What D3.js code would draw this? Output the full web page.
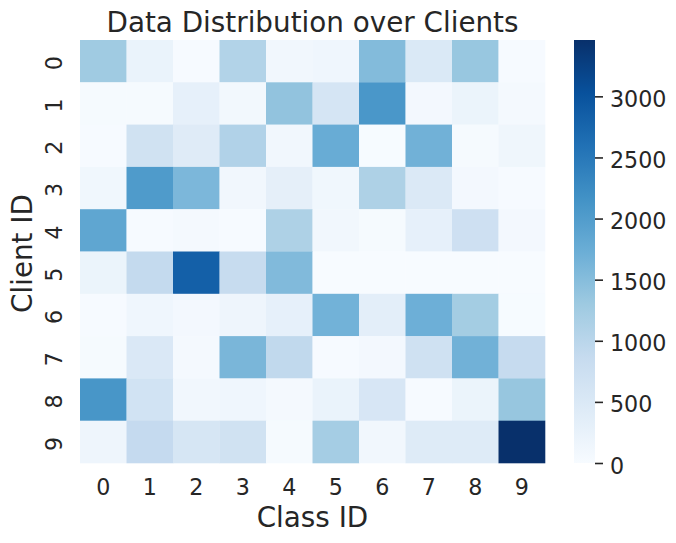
<!DOCTYPE html>
<html>
<head>
<meta charset="utf-8">
<script src="https://cdn.jsdelivr.net/npm/d3@7"></script>
<style>
  body { margin: 0; background: #fff; }
  svg { display: block; }
  text { font-family: "DejaVu Sans"; fill: #262626; }
</style>
</head>
<body>
<script>
var classes = [0, 1, 2, 3, 4, 5, 6, 7, 8, 9];
var clients = [0, 1, 2, 3, 4, 5, 6, 7, 8, 9];
var client0 = [1280, 220, 20, 1080, 100, 130, 1530, 500, 1350, 20];
var client1 = [40, 30, 290, 90, 1400, 600, 2080, 70, 200, 60];
var client2 = [20, 680, 420, 1090, 110, 1760, 10, 1680, 30, 140];
var client3 = [120, 2030, 1590, 100, 320, 120, 1130, 480, 70, 20];
var client4 = [1860, 15, 50, 15, 1130, 110, 40, 290, 720, 70];
var client5 = [200, 890, 2820, 850, 1540, 5, 5, 5, 5, 5];
var client6 = [15, 130, 70, 160, 290, 1670, 350, 1710, 1230, 10];
var client7 = [40, 510, 50, 1600, 920, 20, 70, 700, 1680, 870];
var client8 = [2100, 660, 110, 130, 60, 220, 560, 15, 200, 1360];
var client9 = [150, 880, 570, 680, 40, 1220, 110, 440, 440, 3461];
var counts = [client0, client1, client2, client3, client4, client5, client6, client7, client8, client9];
var barTicks = [0, 500, 1000, 1500, 2000, 2500, 3000];
var blues = ["#f7fbff", "#deebf7", "#c6dbef", "#9ecae1", "#6baed6", "#4292c6", "#2171b5", "#08519c", "#08306b"];

var window_w = 676, window_h = 543;
var margin = {left: 80, top: 40, right: 131, bottom: 80};
var frame_w = window_w - margin.left - margin.right;
var frame_h = window_h - margin.top - margin.bottom;
var vmax = 3461;

var xScale = d3.scaleBand().domain(classes).range([0, frame_w]);
var yScale = d3.scaleBand().domain(clients).range([0, frame_h]);
var barScale = d3.scaleLinear().domain([0, vmax]).range([frame_h, 0]);
var color = d3.scaleLinear()
    .domain(blues.map(function (c, i) { return vmax * i / (blues.length - 1); }))
    .range(blues);

var svg = d3.select("body").append("svg").attr("width", window_w).attr("height", window_h);
var g = svg.append("g").attr("transform", "translate(" + margin.left + "," + margin.top + ")");

counts.forEach(function (row, r) {
  g.selectAll(".cell" + r).data(row).enter().append("rect")
      .attr("class", "cell" + r)
      .attr("x", function (d, c) { return xScale(classes[c]); })
      .attr("y", yScale(clients[r]))
      .attr("width", xScale.bandwidth() + 0.3)
      .attr("height", yScale.bandwidth() + 0.3)
      .attr("fill", function (d) { return color(d); });
});

var xAxisG = g.append("g")
    .attr("transform", "translate(0," + frame_h + ")")
    .call(d3.axisBottom(xScale).tickSize(0).tickPadding(16.2));
xAxisG.select(".domain").remove();
xAxisG.selectAll("text").style("font-size", "22.2px").style("font-family", "DejaVu Sans");

var yAxisG = g.append("g").call(d3.axisLeft(yScale).tickSize(0));
yAxisG.select(".domain").remove();
yAxisG.selectAll("text")
    .attr("x", null).attr("dy", "0.36em")
    .attr("transform", "translate(-26,2) rotate(-90)")
    .style("text-anchor", "middle")
    .style("font-size", "22.2px")
    .style("font-family", "DejaVu Sans");

// colorbar
var defs = svg.append("defs");
var grad = defs.append("linearGradient").attr("id", "bar")
    .attr("x1", 0).attr("y1", 1).attr("x2", 0).attr("y2", 0);
blues.forEach(function (c, i) {
  grad.append("stop").attr("offset", i / (blues.length - 1)).attr("stop-color", c);
});
var barG = g.append("g").attr("transform", "translate(" + (frame_w + 29) + ",0)");
barG.append("rect").attr("width", 21).attr("height", frame_h).attr("fill", "url(#bar)");
var barAxisG = barG.append("g").attr("transform", "translate(21,0)")
    .call(d3.axisRight(barScale).tickValues(barTicks).tickFormat(d3.format("d")).tickSize(8).tickPadding(7));
barAxisG.select(".domain").remove();
barAxisG.selectAll("line").attr("stroke", "#262626").attr("stroke-width", 1.6);
barAxisG.selectAll("text").attr("dy", "0.45em").style("font-size", "22.2px").style("font-family", "DejaVu Sans");

svg.append("text")
    .attr("x", margin.left + frame_w / 2).attr("y", 32)
    .attr("text-anchor", "middle").style("font-size", "27.8px")
    .text("Data Distribution over Clients");
svg.append("text")
    .attr("x", margin.left + frame_w / 2).attr("y", 527)
    .attr("text-anchor", "middle").style("font-size", "27.8px")
    .text("Class ID");
svg.append("text")
    .attr("transform", "translate(32," + (margin.top + frame_h / 2 + 2) + ") rotate(-90)")
    .attr("text-anchor", "middle").style("font-size", "27.8px")
    .text("Client ID");
</script>
</body>
</html>
